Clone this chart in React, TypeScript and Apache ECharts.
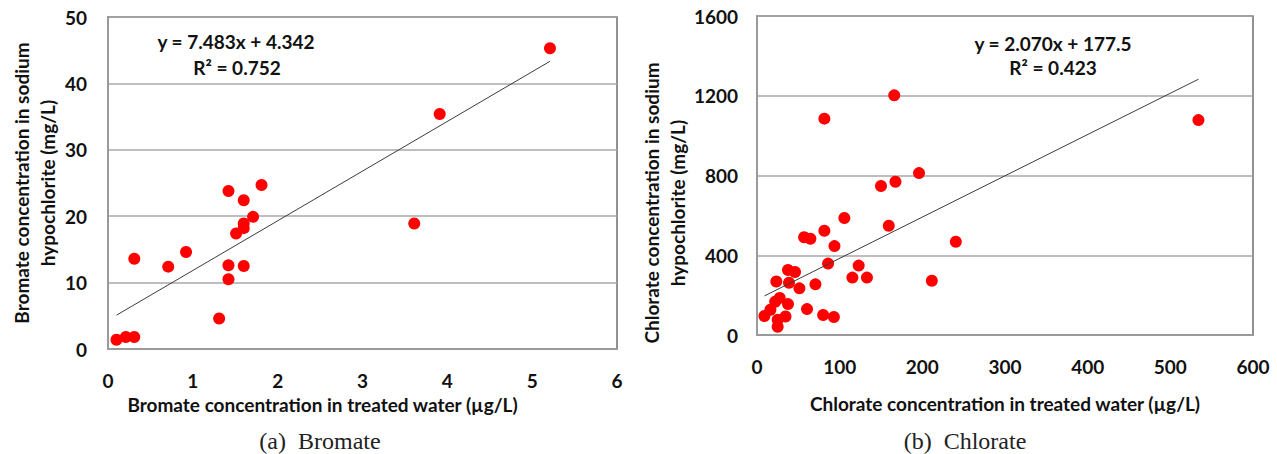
import React, { useEffect, useRef } from "react";
import * as echarts from "echarts";

// Bromate panel (a)
const bromateX = [0.10, 0.21, 0.31, 0.31, 0.71, 0.92, 1.31, 1.42, 1.42, 1.42, 1.51, 1.60, 1.60, 1.60, 1.60, 1.71, 1.81, 3.61, 3.91, 5.21];
const bromateY = [1.4, 1.8, 1.8, 13.6, 12.4, 14.6, 4.6, 10.5, 12.6, 23.8, 17.4, 12.5, 18.2, 18.9, 22.4, 19.9, 24.7, 18.9, 35.4, 45.3];
const bromateSlope = 7.483;
const bromateIntercept = 4.342;
const bromateEquation = "y = 7.483x + 4.342";
const bromateR2 = "R² = 0.752";

// Chlorate panel (b)
const chlorateX = [166, 81.5, 196, 150, 167.5, 105.7, 159.4, 81.5, 57, 64.6, 93.7, 240.5, 86, 123, 37.5, 46, 115.4, 133, 23.4, 38.7, 211.5, 70.7, 51.3, 27.5, 22, 37.5, 16.2, 60.5, 9, 34.5, 25, 25, 80, 93, 534];
const chlorateY = [1202, 1085, 812, 747, 769, 587, 548, 523, 490, 483, 446, 468, 358, 348, 326, 316, 288, 288, 268, 262, 272, 254, 234, 186, 167, 155, 127, 130, 95, 93, 77, 41, 100, 90, 1078];
const chlorateSlope = 2.070;
const chlorateIntercept = 177.5;
const chlorateEquation = "y = 2.070x + 177.5";
const chlorateR2 = "R² = 0.423";

const bromateXTicks = { min: 0, max: 6, interval: 1 };
const bromateYTicks = { min: 0, max: 50, interval: 10 };
const chlorateXTicks = { min: 0, max: 600, interval: 100 };
const chlorateYTicks = { min: 0, max: 1600, interval: 400 };

const FONT = "Lato, 'Noto Sans', sans-serif";
const SERIF = "'Liberation Serif', 'DejaVu Serif', serif";
const TEXT = "#111111";
const FS = 19;

function pairs(xs: number[], ys: number[]) {
  return xs.map((x, i) => [x, ys[i]]);
}
function trend(xs: number[], m: number, b: number) {
  const lo = Math.min(...xs);
  const hi = Math.max(...xs);
  return [[lo, m * lo + b], [hi, m * hi + b]];
}

const labelStyle = { fontFamily: FONT, fontWeight: "bold", fontSize: FS, color: TEXT };
const plain = (v: number) => String(v);

function xAxis(gridIndex: number, ticks: any, name: string, gap: number, pad: number[]) {
  return {
    gridIndex, type: "value", ...ticks, name, nameLocation: "middle", nameGap: gap,
    nameTextStyle: { ...labelStyle, padding: pad },
    axisLine: { show: true, onZero: false, lineStyle: { color: "#9a9a9a", width: 2 } },
    axisTick: { show: false },
    splitLine: { show: false },
    axisLabel: { ...labelStyle, margin: 22, formatter: plain },
  };
}
function yAxis(gridIndex: number, ticks: any, name: string, gap: number, margin: number, pad: number[]) {
  return {
    gridIndex, type: "value", ...ticks, name, nameLocation: "middle", nameRotate: 90, nameGap: gap,
    nameTextStyle: { ...labelStyle, lineHeight: 26, align: "center", padding: pad },
    axisLine: { show: true, onZero: false, lineStyle: { color: "#9a9a9a", width: 2 } },
    axisTick: { show: false },
    splitLine: { show: true, lineStyle: { color: "#a8a8a8", width: 1.5 } },
    axisLabel: { ...labelStyle, margin, formatter: plain },
  };
}

export default function App() {
  const ref = useRef<HTMLDivElement>(null);
  useEffect(() => {
    const chart = echarts.init(ref.current!, null, { renderer: "svg" });
    const textEl = (text: string, x: number, y: number, extra: any = {}) => ({
      type: "text", x, y,
      style: { text, fontFamily: FONT, fontWeight: "bold", fontSize: FS, fill: TEXT, align: "center", verticalAlign: "middle", ...extra },
    });
    chart.setOption({
      animation: false,
      backgroundColor: "#ffffff",
      grid: [
        { left: 108, top: 17, width: 509, height: 332, show: true, borderColor: "#6e6e6e", borderWidth: 1.5 },
        { left: 757, top: 16, width: 496, height: 319, show: true, borderColor: "#6e6e6e", borderWidth: 1.5 },
      ],
      xAxis: [
        xAxis(0, bromateXTicks, "Bromate concentration in treated water (µg/L)", 46, [0, 80, 0, 0]),
        xAxis(1, chlorateXTicks, "Chlorate concentration in treated water (µg/L)", 59, [0, 0, 0, 0]),
      ],
      yAxis: [
        yAxis(0, bromateYTicks, "Bromate concentration in sodium\nhypochlorite (mg/L)", 48, 21, [0, 0, 0, 0]),
        yAxis(1, chlorateYTicks, "Chlorate concentration in sodium\nhypochlorite (mg/L)", 56, 19, [0, 55, 0, 0]),
      ],
      series: [
        { type: "scatter", xAxisIndex: 0, yAxisIndex: 0, data: pairs(bromateX, bromateY), symbolSize: 12, itemStyle: { color: "#ff0000", opacity: 1 }, z: 2 },
        { type: "line", xAxisIndex: 0, yAxisIndex: 0, data: trend(bromateX, bromateSlope, bromateIntercept), showSymbol: false, silent: true, lineStyle: { color: "#3c3c3c", width: 1 }, z: 3 },
        { type: "scatter", xAxisIndex: 1, yAxisIndex: 1, data: pairs(chlorateX, chlorateY), symbolSize: 12, itemStyle: { color: "#ff0000", opacity: 1 }, z: 2 },
        { type: "line", xAxisIndex: 1, yAxisIndex: 1, data: trend(chlorateX, chlorateSlope, chlorateIntercept), showSymbol: false, silent: true, lineStyle: { color: "#3c3c3c", width: 1 }, z: 3 },
      ],
      graphic: [
        textEl(bromateEquation, 236, 41),
        textEl(bromateR2, 237, 67),
        textEl(chlorateEquation, 1053, 43),
        textEl(chlorateR2, 1053, 67),
        textEl("(a)  Bromate", 320, 441, { fontFamily: SERIF, fontWeight: "normal", fontSize: 24, fill: "#222" }),
        textEl("(b)  Chlorate", 965, 441, { fontFamily: SERIF, fontWeight: "normal", fontSize: 24, fill: "#222" }),
      ],
    });
    return () => chart.dispose();
  }, []);
  return <div ref={ref} style={{ position: "absolute", left: 0, top: 0, width: 1277, height: 454, background: "#fff" }} />;
}
